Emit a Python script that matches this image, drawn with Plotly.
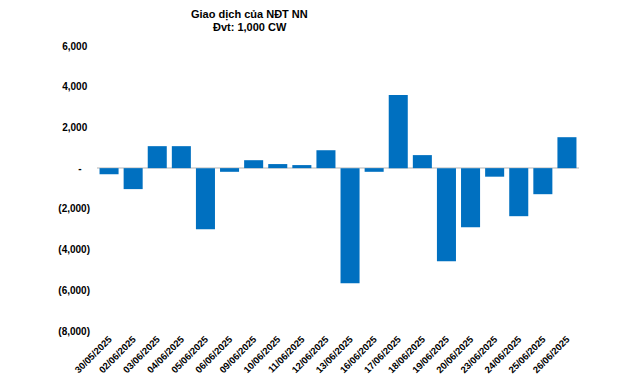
import plotly.graph_objects as go

dates = ["30/05/2025", "02/06/2025", "03/06/2025", "04/06/2025", "05/06/2025",
         "06/06/2025", "09/06/2025", "10/06/2025", "11/06/2025", "12/06/2025",
         "13/06/2025", "16/06/2025", "17/06/2025", "18/06/2025", "19/06/2025",
         "20/06/2025", "23/06/2025", "24/06/2025", "25/06/2025", "26/06/2025"]
values = [-300, -1030, 1080, 1080, -3000,
          -180, 390, 200, 150, 880,
          -5650, -180, 3590, 640, -4570,
          -2900, -420, -2360, -1280, 1520]
y_tick_vals = [6000, 4000, 2000, 0, -2000, -4000, -6000, -8000]
NB = "\u00a0"
y_tick_text = ["6,000" + NB, "4,000" + NB, "2,000" + NB, "-" + NB * 3,
               "(2,000)", "(4,000)", "(6,000)", "(8,000)"]
title_lines = ["Giao dịch của NĐT NN", "Đvt: 1,000 CW"]

font_family = "Liberation Sans, Arial, sans-serif"

fig = go.Figure(go.Bar(x=dates, y=values, marker_color="#0070C0",
                       marker_line_width=0))

fig.update_layout(
    width=640, height=384,
    margin=dict(l=89, r=69, t=38, b=61, autoexpand=False),
    paper_bgcolor="white", plot_bgcolor="white",
    bargap=0.21,
    showlegend=False,
    font=dict(family=font_family, color="black"),
)
for line, ypos in zip(title_lines, [1.11, 1.068]):
    fig.add_annotation(text=line,
                       xref="paper", yref="paper", x=0.317, y=ypos,
                       xanchor="center", yanchor="middle", showarrow=False,
                       font=dict(size=11, weight="bold", family=font_family, color="black"))
fig.update_xaxes(type="category", tickangle=-45, showgrid=False, showline=False,
                 zeroline=False, ticks="", automargin=False,
                 tickfont=dict(size=9.5, weight="bold", family=font_family, color="black"))
fig.update_yaxes(range=[-8000, 6000], tickvals=y_tick_vals, ticktext=y_tick_text,
                 showgrid=False, showline=False, zeroline=True, automargin=False,
                 zerolinecolor="#D9D9D9", zerolinewidth=1.5, ticks="",
                 ticklabelstandoff=6,
                 tickfont=dict(size=10, weight="bold", family=font_family, color="black"))

fig.write_html("out.html")
